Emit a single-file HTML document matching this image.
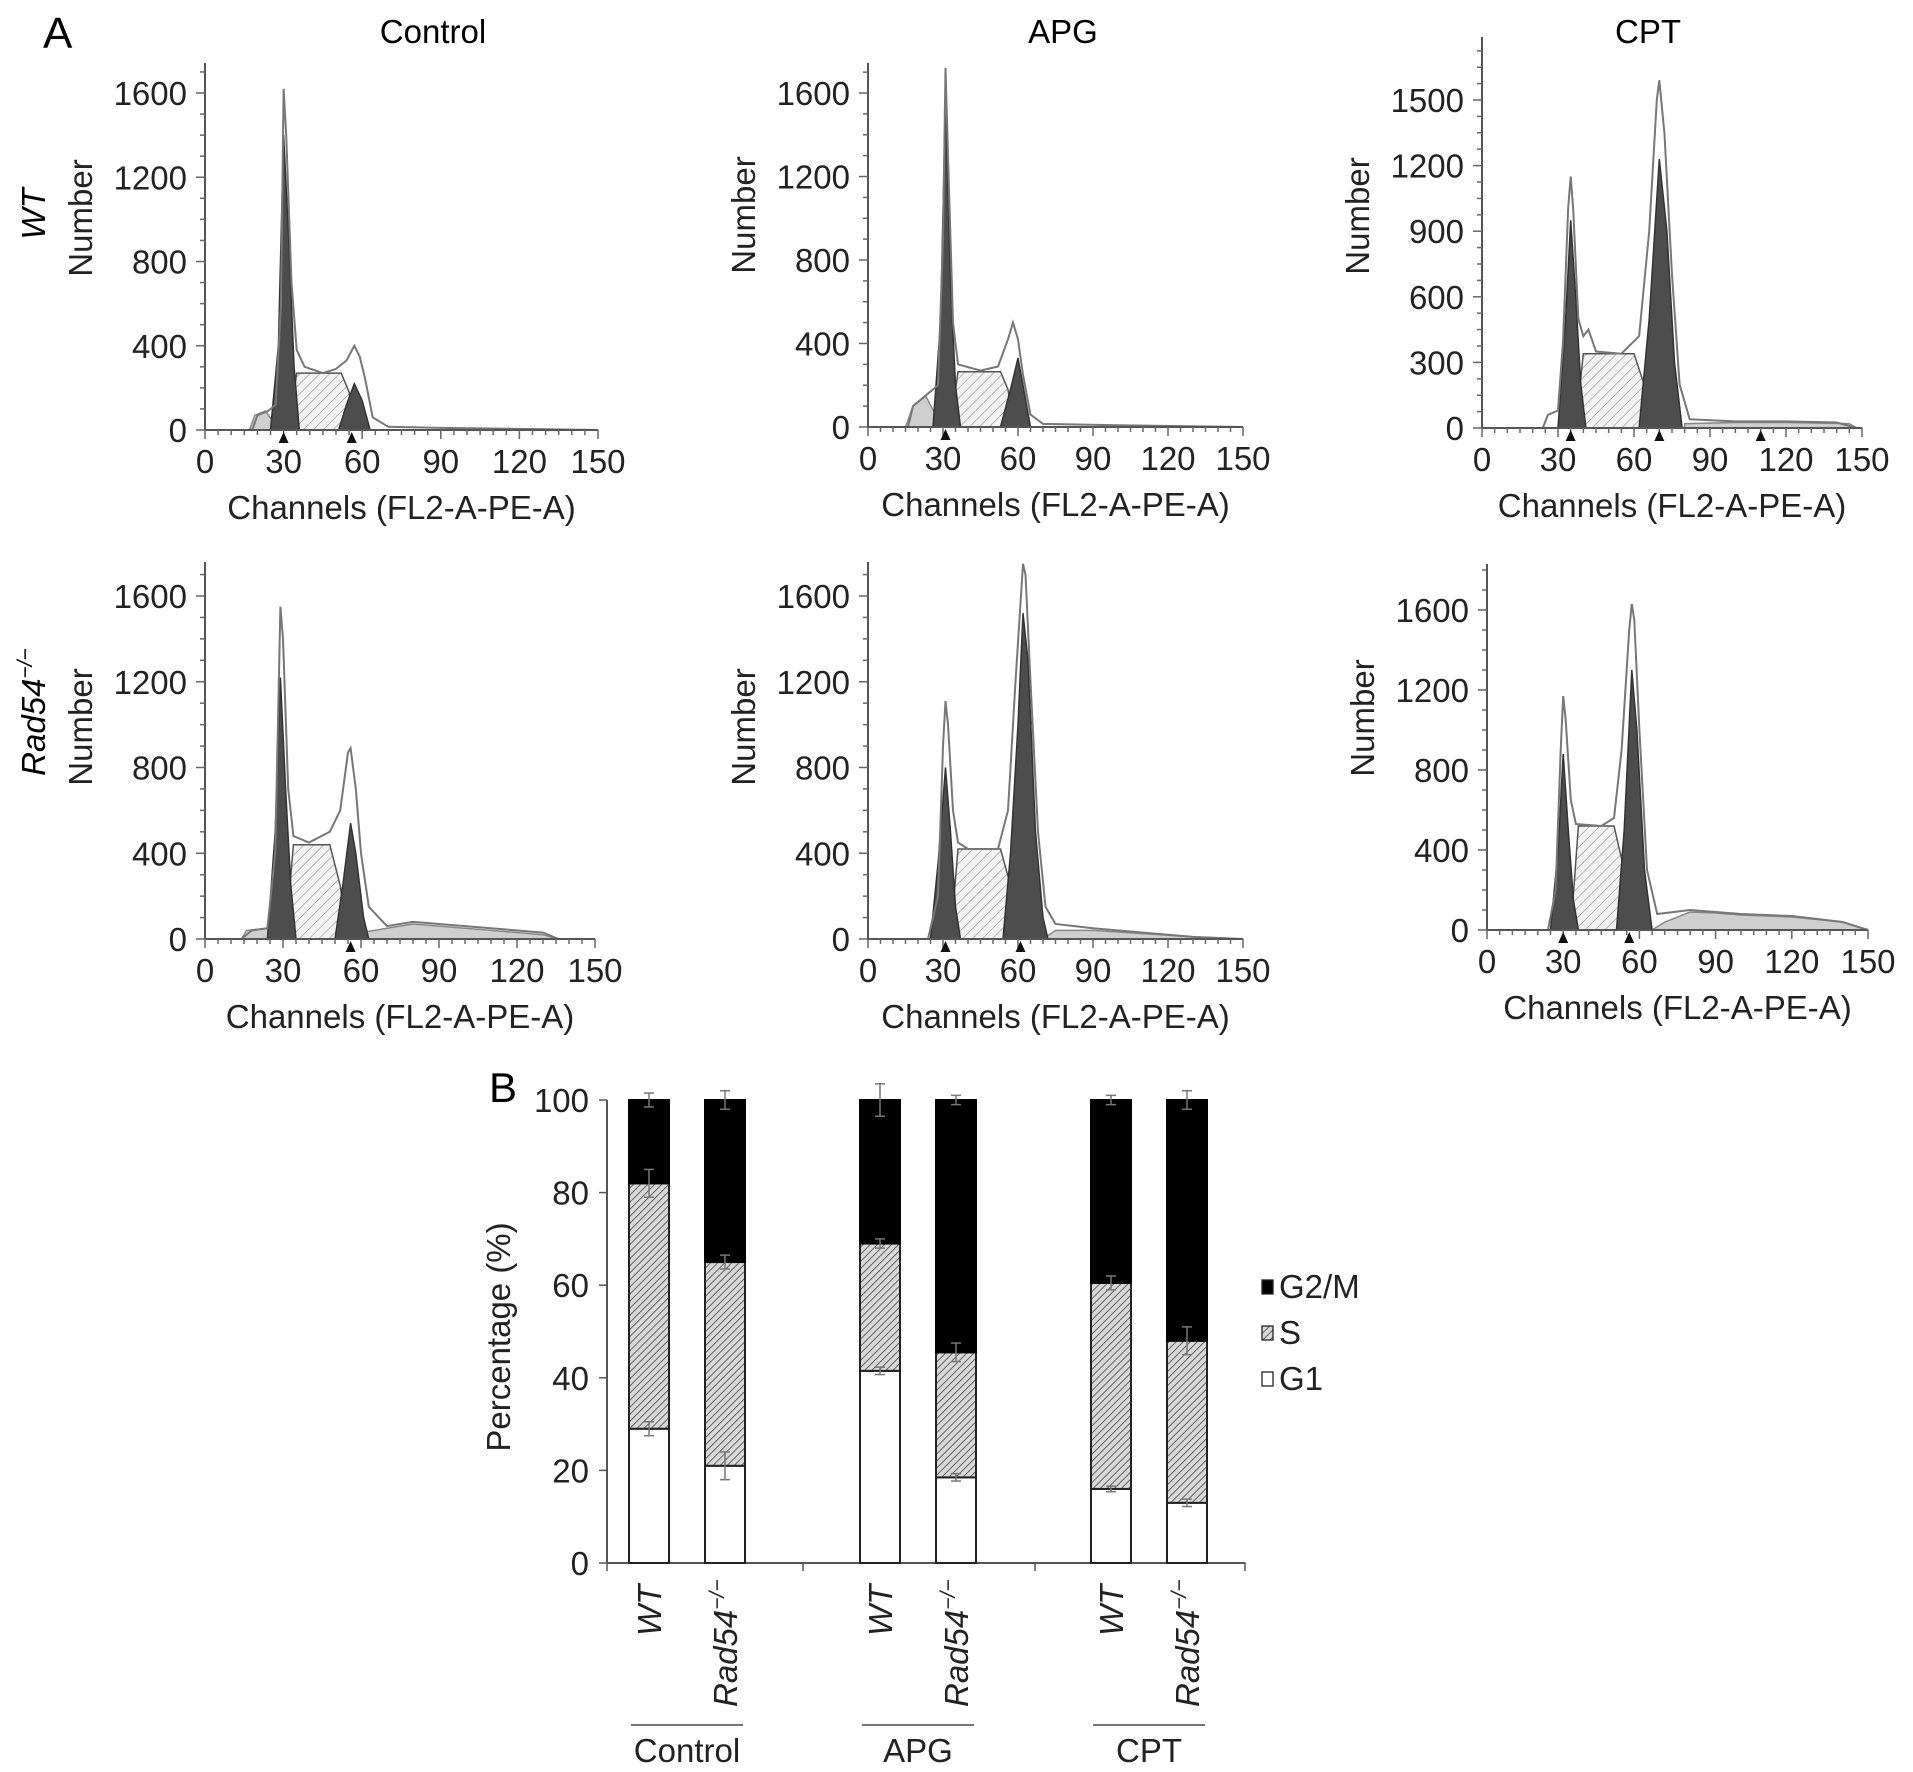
<!DOCTYPE html>
<html><head><meta charset="utf-8">
<style>
html,body{margin:0;padding:0;background:#fff;}
svg{display:block;font-family:"Liberation Sans",Arial,sans-serif;}
</style></head>
<body>
<svg id="fig" width="1913" height="1772" viewBox="0 0 1913 1772" xmlns="http://www.w3.org/2000/svg">
<defs>
<pattern id="hatchLight" patternUnits="userSpaceOnUse" width="7" height="7" patternTransform="rotate(45)">
<rect width="7" height="7" fill="#f2f2f2"/><line x1="0" y1="0" x2="0" y2="7" stroke="#999" stroke-width="1.3"/></pattern>
<pattern id="hatchBar" patternUnits="userSpaceOnUse" width="5" height="5" patternTransform="rotate(45)">
<rect width="5" height="5" fill="#d8d8d8"/><line x1="0" y1="0" x2="0" y2="5" stroke="#444" stroke-width="1.6"/></pattern>
</defs>
<text x="43" y="48" font-size="44">A</text>
<text x="489" y="1102" font-size="42">B</text>
<text x="433" y="43" font-size="33" text-anchor="middle">Control</text>
<text x="1063" y="43" font-size="33" text-anchor="middle">APG</text>
<text x="1648" y="43" font-size="33" text-anchor="middle">CPT</text>
<text transform="translate(45,214) rotate(-90)" font-size="33" font-style="italic" text-anchor="middle">WT</text>
<text transform="translate(45,712) rotate(-90)" font-size="33" font-style="italic" text-anchor="middle">Rad54<tspan font-size="21" dy="-13">−/−</tspan></text>
<g id="hists"></g>
<g id="bars"></g>
</svg>
<script>
// ---------- Histogram data (channel, count) ----------
const p1Outline=[[18,0],[20,70],[24,90],[27,120],[29,600],[30,1620],[31,1400],[33,700],[35,380],[38,300],[45,270],[50,290],[54,330],[57,400],[59,350],[61,250],[64,60],[70,15],[90,10],[120,5],[150,0]];
const p1G1=[[25,0],[28,400],[30,1400],[32,900],[34,300],[36,0]];
const p1S=[[32,0],[35,270],[52,270],[55,180],[57,0]];
const p1G2=[[51,0],[54,120],[57,220],[60,140],[63,0]];
const p1Debris=[[17,0],[19,70],[23,90],[26,40],[27,0]];
const p1Markers=[30,56];

const p2Outline=[[16,0],[18,100],[22,140],[28,200],[30,900],[31,1720],[32,1300],[34,500],[36,300],[45,270],[52,290],[56,420],[58,500],[60,420],[62,250],[65,60],[70,15],[100,8],[150,0]];
const p2G1=[[26,0],[29,500],[31,1550],[33,700],[35,200],[37,0]];
const p2S=[[33,0],[36,265],[53,265],[56,180],[58,0]];
const p2G2=[[53,0],[57,180],[60,330],[62,200],[65,0]];
const p2Debris=[[15,0],[18,100],[23,150],[27,60],[28,0]];
const p2Markers=[31];

const p3Outline=[[24,0],[26,60],[30,80],[32,400],[34,1000],[35,1150],[36,1000],[38,500],[40,420],[42,450],[45,350],[55,340],[62,420],[66,900],[69,1500],[70,1590],[72,1350],[75,700],[78,200],[82,40],[100,30],[120,30],[140,25],[148,0]];
const p3G1=[[30,0],[33,500],[35,950],[37,600],[39,200],[41,0]];
const p3S=[[37,0],[40,340],[60,340],[64,200],[67,0]];
const p3G2=[[62,0],[66,500],[70,1230],[73,900],[76,300],[79,0]];
const p3Debris=[[80,0],[80,20],[100,25],[120,25],[145,20],[148,0]];
const p3Markers=[35,70,110];

const p4Outline=[[14,0],[18,40],[24,50],[27,400],[29,1550],[30,1400],[32,700],[34,480],[40,450],[48,500],[52,600],[55,870],[56,890],[58,700],[60,400],[63,150],[70,60],[80,80],[90,70],[110,50],[130,30],[136,0]];
const p4G1=[[24,0],[27,500],[29,1220],[31,700],[33,250],[35,0]];
const p4S=[[31,0],[34,440],[48,440],[52,250],[55,0]];
const p4G2=[[50,0],[53,250],[56,540],[58,400],[61,100],[63,0]];
const p4Debris=[[14,0],[16,40],[24,50],[30,30],[60,30],[70,50],[80,70],[90,60],[110,40],[130,20],[136,0]];
const p4Markers=[56];

const p5Outline=[[24,0],[28,200],[30,900],[31,1110],[32,1000],[34,600],[36,450],[40,420],[52,420],[56,600],[59,1200],[62,1750],[63,1700],[65,1200],[68,500],[71,150],[75,70],[90,50],[110,30],[130,10],[150,0]];
const p5G1=[[25,0],[28,350],[31,800],[33,500],[35,150],[37,0]];
const p5S=[[33,0],[36,420],[53,420],[57,250],[60,0]];
const p5G2=[[54,0],[57,400],[60,1000],[62,1520],[64,1300],[67,500],[70,100],[72,0]];
const p5Debris=[[70,0],[75,40],[90,40],[110,25],[130,10],[150,0]];
const p5Markers=[31,61];

const p6Outline=[[24,0],[27,200],[29,900],[30,1170],[31,1050],[33,650],[35,530],[45,520],[50,560],[53,900],[56,1500],[57,1630],[58,1550],[60,1000],[63,300],[67,80],[80,100],[90,90],[100,80],[120,70],[140,40],[150,0]];
const p6G1=[[25,0],[28,400],[30,880],[32,500],[34,150],[36,0]];
const p6S=[[33,0],[36,520],[50,520],[54,300],[57,0]];
const p6G2=[[51,0],[54,500],[57,1300],[59,1000],[62,300],[65,0]];
const p6Debris=[[65,0],[70,40],[80,90],[90,85],[100,75],[120,65],[140,40],[150,0]];
const p6Markers=[30,56];

const xTicks=[0,30,60,90,120,150];
const yTicksA=[0,400,800,1200,1600];
const yTicksB=[0,300,600,900,1200,1500];

// ---------- Bar chart data ----------
const groups=["Control","APG","CPT"];
const genotypes=["WT","Rad54"];
const g1Vals=[29,21,41.5,18.5,16,13];
const sTopVals=[82,65,69,45.5,60.5,48];
const totalVals=[100,100,100,100,100,100];
const g1Err=[1.5,3,0.8,0.8,0.6,0.8];
const sErr=[3,1.5,1,2,1.5,3];
const topErr=[1.5,2,3.5,1,1,2];
const pctTicks=[0,20,40,60,80,100];
const legendLabels=["G2/M","S","G1"];

const NS="http://www.w3.org/2000/svg";
const FS=33;
function mk(tag,attrs,parent){const e=document.createElementNS(NS,tag);for(const k in attrs)e.setAttribute(k,attrs[k]);parent.appendChild(e);return e;}

const panels=[
 {id:"wt-control",ax:205,x150:598,base:430,tv:1600,ty:93,top:63,ticks:yTicksA,o:p1Outline,g1:p1G1,s:p1S,g2:p1G2,d:p1Debris,m:p1Markers},
 {id:"wt-apg",ax:868,x150:1243,base:427,tv:1600,ty:93,top:63,ticks:yTicksA,o:p2Outline,g1:p2G1,s:p2S,g2:p2G2,d:p2Debris,m:p2Markers},
 {id:"wt-cpt",ax:1482,x150:1862,base:428,tv:1500,ty:100,top:37,ticks:yTicksB,o:p3Outline,g1:p3G1,s:p3S,g2:p3G2,d:p3Debris,m:p3Markers},
 {id:"rad54-control",ax:205,x150:595,base:939,tv:1600,ty:596,top:562,ticks:yTicksA,o:p4Outline,g1:p4G1,s:p4S,g2:p4G2,d:p4Debris,m:p4Markers},
 {id:"rad54-apg",ax:868,x150:1243,base:939,tv:1600,ty:596,top:562,ticks:yTicksA,o:p5Outline,g1:p5G1,s:p5S,g2:p5G2,d:p5Debris,m:p5Markers},
 {id:"rad54-cpt",ax:1487,x150:1868,base:930,tv:1600,ty:610,top:564,ticks:yTicksA,o:p6Outline,g1:p6G1,s:p6S,g2:p6G2,d:p6Debris,m:p6Markers}
];
const hroot=document.getElementById('hists');
panels.forEach(p=>{
 const g=mk('g',{},hroot);
 
 
 const sx=c=>p.ax+(p.x150-p.ax)*c/150;
 const sy=v=>p.base-(p.base-p.ty)*v/p.tv;
 const pts=a=>a.map(q=>sx(q[0]).toFixed(1)+','+sy(q[1]).toFixed(1)).join(' ');
 const d=mk('polygon',{points:pts(p.d),fill:'#cfcfcf',stroke:'#888','stroke-width':1.5},g);
 
 
 const s=mk('polygon',{points:pts(p.s),fill:'url(#hatchLight)',stroke:'#555','stroke-width':1.5},g);
 
 
 const g1=mk('polygon',{points:pts(p.g1),fill:'#4d4d4d',stroke:'#333','stroke-width':1.5},g);
 
 
 const g2=mk('polygon',{points:pts(p.g2),fill:'#4d4d4d',stroke:'#333','stroke-width':1.5},g);
 
 
 const o=mk('polyline',{points:pts(p.o),fill:'none',stroke:'#777','stroke-width':2},g);
 
 
 mk('line',{x1:p.ax,y1:p.top,x2:p.ax,y2:p.base,stroke:'#555','stroke-width':2},g);
 mk('line',{x1:p.ax,y1:p.base,x2:p.x150,y2:p.base,stroke:'#555','stroke-width':2},g);
 for(let c=0;c<=150;c+=5){const L=c%30===0?9:5;mk('line',{x1:sx(c),y1:p.base,x2:sx(c),y2:p.base+L,stroke:'#666','stroke-width':1.5},g);}
 const step=p.ticks[1]/4;
 for(let v=0;sy(v)>=p.top;v+=step){const L=(v%p.ticks[1]===0)?9:5;mk('line',{x1:p.ax-L,y1:sy(v),x2:p.ax,y2:sy(v),stroke:'#666','stroke-width':1.5},g);}
 p.ticks.forEach(v=>{const t=mk('text',{x:p.ax-18,y:sy(v)+12,'font-size':FS,'text-anchor':'end',fill:'#222'},g);t.textContent=v;
  
  });
 xTicks.forEach(c=>{const t=mk('text',{x:sx(c),y:p.base+43,'font-size':FS,'text-anchor':'middle',fill:'#222'},g);t.textContent=c;
  
  });
 p.m.forEach(c=>{const x=sx(c),y=p.base+2;const m=mk('polygon',{points:`${x-5},${y+11} ${x+5},${y+11} ${x},${y}`,fill:'#111'},g);
  
  });
 const xt=mk('text',{x:(p.ax+p.x150)/2,y:p.base+89,'font-size':FS,'text-anchor':'middle',fill:'#222'},g);xt.textContent='Channels (FL2-A-PE-A)';
 
 
 const yt=mk('text',{transform:`translate(${p.ax-113},${p.base-212}) rotate(-90)`,'font-size':FS,'text-anchor':'middle',fill:'#222'},g);yt.textContent='Number';
 
 
});

// ---------- Bar chart ----------
const broot=document.getElementById('bars');
const bx0=607,bBase=1563,b100=1100,bxEnd=1245;
const by=v=>bBase-(bBase-b100)*v/100;
const bxc=i=>687+Math.floor(i/2)*231+(i%2===0?-38:38);
const bw=40;
mk('line',{x1:bx0,y1:b100,x2:bx0,y2:bBase,stroke:'#555','stroke-width':2},broot);
mk('line',{x1:bx0,y1:bBase,x2:bxEnd,y2:bBase,stroke:'#555','stroke-width':2},broot);
[607,803,1035,1245].forEach(x=>mk('line',{x1:x,y1:bBase,x2:x,y2:bBase+8,stroke:'#555','stroke-width':1.5},broot));
pctTicks.forEach(v=>{mk('line',{x1:bx0-8,y1:by(v),x2:bx0,y2:by(v),stroke:'#555','stroke-width':1.5},broot);
 const t=mk('text',{x:bx0-18,y:by(v)+12,'font-size':FS,'text-anchor':'end',fill:'#222'},broot);t.textContent=v;
 
 });
const pl=mk('text',{transform:'translate(510,1337) rotate(-90)','font-size':FS,'text-anchor':'middle',fill:'#222'},broot);pl.textContent='Percentage (%)';


function errbar(x,v,e){mk('line',{x1:x,y1:by(v-e),x2:x,y2:by(v+e),stroke:'#777','stroke-width':1.5},broot);
 mk('line',{x1:x-5,y1:by(v+e),x2:x+5,y2:by(v+e),stroke:'#777','stroke-width':1.5},broot);
 mk('line',{x1:x-5,y1:by(v-e),x2:x+5,y2:by(v-e),stroke:'#777','stroke-width':1.5},broot);}
g1Vals.forEach((v,i)=>{
 const x=bxc(i);
 const r1=mk('rect',{x:x-bw/2,y:by(v),width:bw,height:by(0)-by(v),fill:'#fff',stroke:'#222','stroke-width':2},broot);
 
 
 const r2=mk('rect',{x:x-bw/2,y:by(sTopVals[i]),width:bw,height:by(v)-by(sTopVals[i]),fill:'url(#hatchBar)',stroke:'#222','stroke-width':2},broot);
 
 
 const r3=mk('rect',{x:x-bw/2,y:by(totalVals[i]),width:bw,height:by(sTopVals[i])-by(totalVals[i]),fill:'#000',stroke:'#000','stroke-width':2},broot);
 
 
 errbar(x,v,g1Err[i]);errbar(x,sTopVals[i],sErr[i]);errbar(x,totalVals[i],topErr[i]);
 const gt=genotypes[i%2];
 const t=mk('text',{transform:`translate(${x+12},${gt==='WT'?1636:1707}) rotate(-90)`,'font-size':FS,'font-style':'italic',fill:'#222'},broot);
 if(gt==='WT'){t.textContent='WT';}else{t.textContent='Rad54';const ts=mk('tspan',{'font-size':21,dy:-13},t);ts.textContent='−/−';}
 
 
});
groups.forEach((gname,gi)=>{
 const c=(bxc(gi*2)+bxc(gi*2+1))/2;
 mk('line',{x1:c-56,y1:1725,x2:c+56,y2:1725,stroke:'#777','stroke-width':2},broot);
 const t=mk('text',{x:c,y:1762,'font-size':FS,'text-anchor':'middle',fill:'#222'},broot);t.textContent=gname;
 
 
});
const legFills=['#000','url(#hatchBar)','#fff'];
legendLabels.forEach((l,i)=>{
 const y=1290+i*46;
 const r=mk('rect',{x:1262,y:y-10,width:11,height:14,fill:legFills[i],stroke:'#222','stroke-width':1.3},broot);
 
 
 const t=mk('text',{x:1279,y:y+8,'font-size':FS,fill:'#222'},broot);t.textContent=l;
 
 
});
</script>
</body></html>
